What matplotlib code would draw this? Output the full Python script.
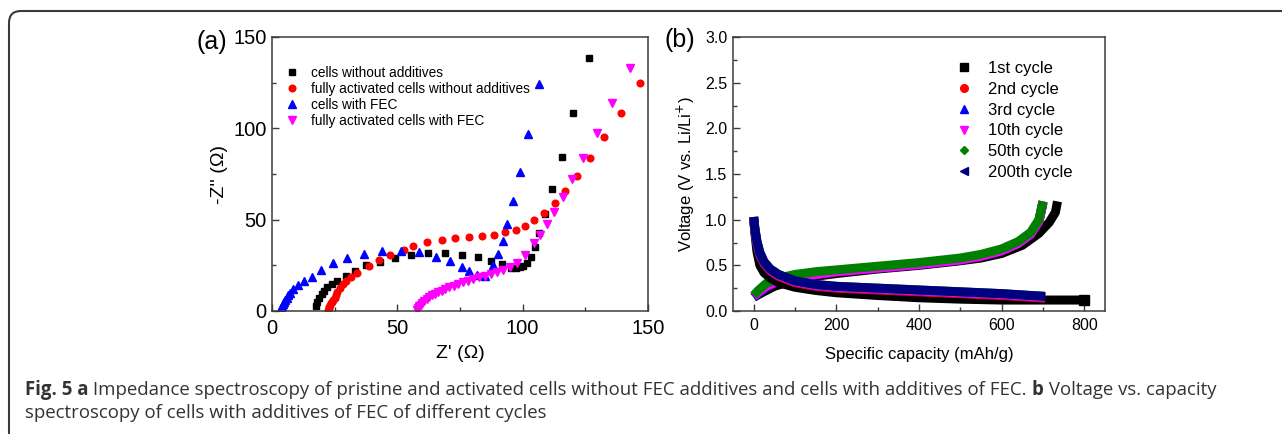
import matplotlib
matplotlib.use('Agg')
import matplotlib.pyplot as plt
from matplotlib.lines import Line2D
from matplotlib.patches import FancyBboxPatch
from matplotlib.transforms import IdentityTransform
from matplotlib.ticker import MultipleLocator, FormatStrFormatter

plt.rcParams['font.family'] = ['Liberation Sans', 'DejaVu Sans']

# ---- (a) impedance data, Z' and -Z'' in ohm
zre_bare = [17.6, 18.1, 18.9, 19.9, 20.7, 22.0, 23.8, 26.0, 29.5, 33.1, 37.5, 43.0, 49.0, 55.3, 62.1, 69.0,
            75.7, 82.0, 87.4, 91.6, 95.2, 97.3, 98.9, 100.2, 101.6, 103.2, 104.9, 106.6, 108.9, 111.6, 115.6,
            119.9, 126.6]
zim_bare = [2.7, 5.1, 6.9, 9.3, 11.1, 13.0, 14.8, 16.6, 19.2, 21.9, 25.0, 27.0, 28.8, 30.7, 31.9, 31.9,
            30.7, 29.4, 27.5, 25.7, 23.4, 23.4, 23.9, 24.6, 26.4, 29.4, 35.2, 42.5, 53.1, 66.8, 84.5,
            108.5, 138.3]
zre_bare_act = [22.5, 22.6, 22.9, 23.3, 23.7, 24.1, 24.5, 25.0, 25.5, 26.0, 27.0, 28.4, 29.7, 31.7, 34.0,
                38.8, 42.6, 47.0, 52.6, 56.3, 61.8, 67.7, 73.1, 78.7, 83.9, 88.7, 93.1, 97.4, 101.0,
                104.7, 108.6, 112.8, 117.0, 121.6, 126.9, 132.5, 139.2, 146.7]
zim_bare_act = [0.6, 1.5, 2.4, 3.3, 4.2, 5.1, 6.1, 7.2, 8.6, 10.6, 12.4, 14.6, 16.6, 18.8, 21.0,
                24.8, 27.9, 30.6, 33.4, 35.7, 37.7, 39.0, 40.1, 40.6, 41.2, 41.7, 43.2, 44.3, 46.5,
                49.6, 53.8, 59.0, 65.8, 73.8, 83.5, 95.0, 108.6, 125.0]
zre_fec = [3.2, 3.5, 3.9, 4.3, 4.8, 5.3, 5.9, 6.5, 7.2, 8.5, 10.5, 12.8, 15.8, 19.4, 24.2, 29.8, 36.7,
           43.8, 51.3, 58.8, 65.4, 71.0, 75.7, 78.7, 81.7, 85.0, 88.3, 90.3, 92.2, 93.9, 96.3, 98.9,
           102.2, 106.5]
zim_fec = [0.5, 1.5, 2.7, 3.9, 5.1, 6.2, 7.3, 8.5, 9.7, 11.9, 14.2, 16.6, 18.8, 22.4, 26.4, 28.9, 31.2,
           33.0, 33.0, 32.1, 29.7, 27.4, 24.2, 22.1, 19.7, 19.2, 25.1, 31.0, 38.3, 47.6, 60.0, 75.9,
           96.7, 124.2]
zre_fec_act = [57.8, 58.2, 58.7, 59.3, 60.0, 60.8, 61.7, 62.7, 63.8, 65.0, 66.3, 67.7, 69.2, 70.8, 72.5,
               74.3, 76.2, 78.2, 80.3, 82.5, 84.8, 87.2, 89.7, 92.3, 95.0, 97.6, 100.9, 104.5, 106.9,
               109.6, 112.5, 116.0, 119.5, 124.2, 129.8, 135.5, 142.8]
zim_fec_act = [0.8, 1.6, 2.5, 3.5, 4.6, 5.6, 6.6, 7.5, 8.5, 9.4, 10.3, 11.2, 12.1, 13.0, 13.9,
               14.8, 15.7, 16.6, 17.5, 18.4, 19.3, 20.3, 21.4, 22.6, 24.0, 26.2, 30.7, 37.4, 41.6,
               47.5, 54.4, 62.6, 72.1, 83.9, 97.3, 114.0, 132.8]
eis_labels = ['cells without additives', 'fully activated cells without additives',
              'cells with FEC', 'fully activated cells with FEC']

# ---- (b) voltage profiles, mAh/g and V
cycles = ['1st cycle', '2nd cycle', '3rd cycle', '10th cycle', '50th cycle', '200th cycle']
dis_cap_1st = [0, 3, 8, 15, 25, 40, 60, 100, 150, 200, 300, 400, 500, 600, 700, 800]
dis_v_1st = [1.02, 0.85, 0.65, 0.50, 0.42, 0.36, 0.31, 0.26, 0.225, 0.20, 0.17, 0.145, 0.13, 0.12, 0.12, 0.12]
chg_cap_1st = [0, 20, 50, 100, 150, 200, 300, 400, 500, 550, 600, 650, 690, 715, 730, 735]
chg_v_1st = [0.15, 0.20, 0.27, 0.34, 0.38, 0.41, 0.46, 0.50, 0.55, 0.58, 0.63, 0.72, 0.85, 0.97, 1.08, 1.20]

dis_cap = [0, 3, 8, 15, 25, 40, 60, 100, 150, 200, 300, 400, 500, 600, 705]
dis_v_2nd = [1.01, 0.87, 0.73, 0.61, 0.52, 0.44, 0.38, 0.31, 0.27, 0.25, 0.23, 0.21, 0.19, 0.17, 0.14]
dis_v_3rd = [1.02, 0.88, 0.74, 0.62, 0.53, 0.45, 0.39, 0.32, 0.28, 0.26, 0.24, 0.22, 0.20, 0.18, 0.15]
dis_v_10th = [1.02, 0.89, 0.75, 0.63, 0.53, 0.45, 0.39, 0.32, 0.28, 0.26, 0.24, 0.22, 0.20, 0.18, 0.15]
dis_v_50th = [1.03, 0.90, 0.76, 0.64, 0.54, 0.46, 0.40, 0.33, 0.29, 0.27, 0.25, 0.23, 0.21, 0.19, 0.16]
dis_v_200th = [1.03, 0.90, 0.76, 0.64, 0.54, 0.46, 0.40, 0.33, 0.29, 0.27, 0.25, 0.23, 0.21, 0.19, 0.16]

chg_cap = [0, 10, 30, 60, 100, 150, 200, 300, 400, 500, 550, 600, 640, 670, 690, 700]
chg_v_2nd = [0.15, 0.19, 0.26, 0.33, 0.37, 0.40, 0.43, 0.47, 0.51, 0.56, 0.60, 0.66, 0.74, 0.84, 0.98, 1.20]
chg_v_3rd = [0.15, 0.19, 0.26, 0.33, 0.37, 0.40, 0.43, 0.47, 0.51, 0.56, 0.60, 0.66, 0.74, 0.84, 0.98, 1.19]
chg_v_10th = [0.16, 0.20, 0.27, 0.33, 0.37, 0.40, 0.43, 0.47, 0.51, 0.56, 0.60, 0.66, 0.74, 0.84, 0.98, 1.20]
chg_v_50th = [0.17, 0.22, 0.30, 0.36, 0.40, 0.43, 0.45, 0.49, 0.53, 0.58, 0.62, 0.68, 0.76, 0.86, 1.00, 1.20]
chg_v_200th = [0.15, 0.19, 0.26, 0.33, 0.37, 0.40, 0.43, 0.47, 0.51, 0.56, 0.60, 0.66, 0.74, 0.84, 0.98, 1.18]

fig = plt.figure(figsize=(12.82, 4.34), dpi=100)
W, H = 1282, 434

def px_axes(l, t, r, b):
    return fig.add_axes([l / W, 1 - b / H, (r - l) / W, (b - t) / H])

def style(ax, fs):
    for s in ax.spines.values():
        s.set_color('#3c3c3c')
        s.set_linewidth(1.1)
    ax.tick_params(which='both', direction='in', top=False, right=False, colors='#3c3c3c',
                   labelcolor='black', labelsize=fs)
    ax.tick_params(which='major', length=5, width=1)
    ax.tick_params(which='minor', length=3, width=1)

# panel a
ax1 = px_axes(272, 37, 648, 311)
ax1.plot(zre_bare, zim_bare, 's', color='black', ms=4.2, label=eis_labels[0])
ax1.plot(zre_bare_act, zim_bare_act, 'o', color='red', ms=4.8, label=eis_labels[1])
ax1.plot(zre_fec, zim_fec, '^', color='blue', ms=5.2, label=eis_labels[2])
ax1.plot(zre_fec_act, zim_fec_act, 'v', color='magenta', ms=5.2, label=eis_labels[3])
ax1.set_xlim(0, 150)
ax1.set_ylim(0, 150)
ax1.xaxis.set_major_locator(MultipleLocator(50))
ax1.xaxis.set_minor_locator(MultipleLocator(25))
ax1.yaxis.set_major_locator(MultipleLocator(50))
ax1.yaxis.set_minor_locator(MultipleLocator(25))
style(ax1, 14.5)
ax1.tick_params(axis='x', pad=6)
ax1.tick_params(axis='y', pad=4)
ax1.set_xlabel("Z' (\u03a9)", fontsize=14, labelpad=5)
ax1.set_ylabel("-Z'' (\u03a9)", fontsize=14, labelpad=4)
ax1.legend(loc='upper left', bbox_to_anchor=(0.035, 0.895), frameon=False, fontsize=9.8,
           handlelength=1, handletextpad=0.87, borderpad=0, borderaxespad=0, labelspacing=0.15,
           numpoints=1)
fig.text(196 / W, 1 - 42 / H, '(a)', fontsize=18, va='center', ha='left')

# panel b
ax2 = px_axes(733, 37, 1105, 311)
dis_sets = [(dis_cap_1st, dis_v_1st), (dis_cap, dis_v_2nd), (dis_cap, dis_v_3rd),
            (dis_cap, dis_v_10th), (dis_cap, dis_v_50th), (dis_cap, dis_v_200th)]
chg_sets = [(chg_cap_1st, chg_v_1st), (chg_cap, chg_v_2nd), (chg_cap, chg_v_3rd),
            (chg_cap, chg_v_10th), (chg_cap, chg_v_50th), (chg_cap, chg_v_200th)]
colors = ['black', 'red', 'blue', 'magenta', '#008000', '#000080']
markers = ['s', 'o', '^', 'v', 'D', '<']
chg_z = [2, 2.1, 2.2, 2.3, 2.5, 2.05]
for i in range(len(cycles)):
    ax2.plot(*dis_sets[i], '-', color=colors[i], lw=6.5, solid_capstyle='butt', zorder=3 + i * 0.1)
    ax2.plot(*chg_sets[i], '-', color=colors[i], lw=6.5, solid_capstyle='butt', zorder=chg_z[i])
# end square of 1st discharge
ax2.plot(dis_cap_1st[-1], dis_v_1st[-1], 's', color='black', ms=6.5, zorder=3)
ax2.set_xlim(-50, 850)
ax2.set_ylim(0, 3.0)
ax2.xaxis.set_major_locator(MultipleLocator(200))
ax2.xaxis.set_minor_locator(MultipleLocator(100))
ax2.yaxis.set_major_locator(MultipleLocator(0.5))
ax2.yaxis.set_minor_locator(MultipleLocator(0.25))
ax2.yaxis.set_major_formatter(FormatStrFormatter('%.1f'))
style(ax2, 11.5)
ax2.tick_params(axis='x', pad=5)
ax2.tick_params(axis='y', pad=4)
ax2.set_xlabel('Specific capacity (mAh/g)', fontsize=12, labelpad=10)
ax2.set_ylabel('Voltage (V vs. Li/Li$^{+}$)', fontsize=12, labelpad=6)
handles = [Line2D([], [], ls='none', marker=markers[i], color=colors[i], ms=5.5 if i != 4 else 4.5)
           for i in range(len(cycles))]
ax2.legend(handles, cycles, loc='upper left', bbox_to_anchor=(0.599, 0.913), frameon=False,
           fontsize=12, handlelength=1, handletextpad=0.94, borderpad=0, borderaxespad=0,
           labelspacing=0.35)
fig.text(665 / W, 1 - 40 / H, '(b)', fontsize=18, va='center', ha='left')

# frame around figure + caption
box = FancyBboxPatch((9, -30), 1320, 434 - 11 + 30, boxstyle='round,pad=0,rounding_size=12',
                     transform=IdentityTransform(), fill=False, ec='#3a3a3a', lw=1.5)
fig.patches.append(box)

cap_font = ['Open Sans', 'DejaVu Sans']
cap_fs = 13.4
cap_color = '#333333'
line1 = [('Fig. 5 a', 'bold'), (' Impedance spectroscopy of pristine and activated cells without FEC additives and cells with additives of FEC. ', 'normal'),
         ('b', 'bold'), (' Voltage vs. capacity', 'normal')]
line2 = [('spectroscopy of cells with additives of FEC of different cycles', 'normal')]
fig.canvas.draw()
renderer = fig.canvas.get_renderer()
for parts, ybase in [(line1, H - 395), (line2, H - 418)]:
    x = 25
    for txt, wt in parts:
        t = fig.text(x, ybase, txt, transform=IdentityTransform(), fontsize=cap_fs, family=cap_font,
                     weight=wt, color=cap_color, va='baseline', ha='left')
        bb = t.get_window_extent(renderer)
        x = bb.x1

fig.savefig('out.png', dpi=100)
